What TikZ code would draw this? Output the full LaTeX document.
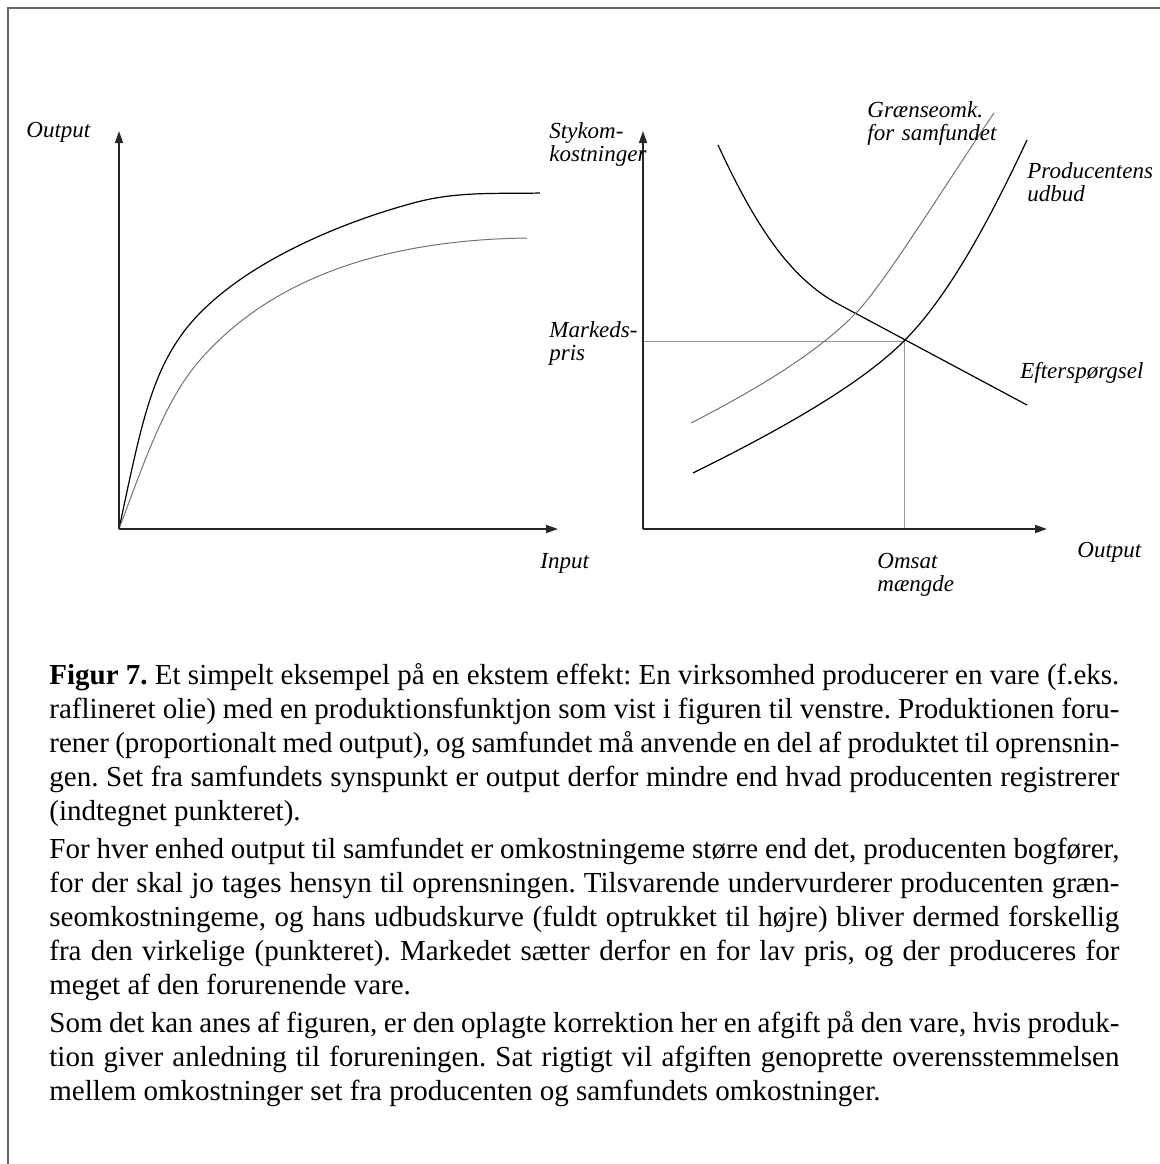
\documentclass[tikz,border=0pt]{standalone}
\usepackage{fontspec}
\setmainfont{Liberation Serif}
\usetikzlibrary{arrows.meta, positioning}
\tikzset{
    frame/.style={
        draw=black!60,
        line width=1pt,
    },
    axis/.style={
        draw=black!85,
        line width=0.8pt,
        -{Triangle[length=6pt,width=4pt]},
    },
    dark/.style={
        draw=black,
        line width=0.6pt,
    },
    pale/.style={
        draw=black!55,
        line width=0.5pt,
    },
    guide/.style={
        draw=black!40,
        line width=0.5pt,
    },
    lbl/.style={
        font=\fontsize{11.5}{11.5}\selectfont\itshape,
        text width=70pt,
        align=left,
        inner sep=0pt,
        anchor=base west,
    },
    caption/.style={
        font=\fontsize{14.5}{17}\selectfont,
        text width=535pt,
        align=justify,
        inner sep=0pt,
        anchor=base west,
    },
}

\begin{document}
\begin{tikzpicture}[x=0.5pt, y=-0.5pt]
    \useasboundingbox (0,0) rectangle (1160,1164);

    \draw[frame] (1160,8) -| (8,1164);

    % left: production function
    \coordinate (O1) at (119,529);
    \coordinate (Y1) at (119,131);
    \coordinate (X1) at (558,529);

    \draw[dark] (O1) .. controls (140,430) and (150,380) .. (180,337)
        .. controls (225,272) and (330,225) .. (417,202)
        .. controls (460,191) and (500,194) .. (540,193);
    \draw[pale] (O1) .. controls (145,460) and (165,400) .. (200,360)
        .. controls (270,280) and (380,240) .. (527,238);

    \draw[axis] (O1) -- (Y1);
    \draw[axis] (O1) -- (X1);

    \node[lbl] (out1) at (26,137) {Output};
    \node[lbl] (in1) at (540,568) {Input};

    % right: market
    \coordinate (O2) at (643,529);
    \coordinate (Y2) at (643,131);
    \coordinate (X2) at (1047,529);
    \coordinate (P) at (904,341);

    \draw[guide] (O2 |- P) -- (P) -- (P |- O2);

    \draw[dark] (718,145) .. controls (755,225) and (790,279) .. (840,305) -- (1027,405);
    \draw[pale] (691,423) .. controls (765,385) and (820,350) .. (856,313)
        .. controls (885,283) and (945,185) .. (994,113);
    \draw[dark] (693,473) .. controls (780,430) and (860,385) .. (P)
        .. controls (945,300) and (985,230) .. (1027,140);

    \draw[axis] (O2) -- (Y2);
    \draw[axis] (O2) -- (X2);

    \node[lbl] (cost) at (549,138) {Stykom-\\kostninger};
    \node[lbl] (price) at (549,337) {Markeds-\\pris};
    \node[lbl] (social) at (867,117) {Grænseomk.\\for samfundet};
    \node[lbl] (supply) at (1027,178) {Producentens\\udbud};
    \node[lbl] (demand) at (1020,378) {Efterspørgsel};
    \node[lbl] (out2) at (1077,557) {Output};
    \node[lbl] (qty) at (877,568) {Omsat\\mængde};

    % caption
    \node[caption] (cap) at (49,684) {\setlength{\parskip}{2pt}\hyphenpenalty=10000\frenchspacing
        \textbf{Figur 7.} Et simpelt eksempel på en ekstem effekt: En virksomhed producerer en vare (f.eks.\linebreak
        raflineret olie) med en produktionsfunktjon som vist i figuren til venstre. Produktionen foru-\linebreak
        rener (proportionalt med output), og samfundet må anvende en del af produktet til oprensnin-\linebreak
        gen. Set fra samfundets synspunkt er output derfor mindre end hvad producenten registrerer\linebreak
        (indtegnet punkteret).\par
        For hver enhed output til samfundet er omkostningeme større end det, producenten bogfører,\linebreak
        for der skal jo tages hensyn til oprensningen. Tilsvarende undervurderer producenten græn-\linebreak
        seomkostningeme, og hans udbudskurve (fuldt optrukket til højre) bliver dermed forskellig\linebreak
        fra den virkelige (punkteret). Markedet sætter derfor en for lav pris, og der produceres for\linebreak
        meget af den forurenende vare.\par
        Som det kan anes af figuren, er den oplagte korrektion her en afgift på den vare, hvis produk-\linebreak
        tion giver anledning til forureningen. Sat rigtigt vil afgiften genoprette overensstemmelsen\linebreak
        mellem omkostninger set fra producenten og samfundets omkostninger.};
\end{tikzpicture}
\end{document}
